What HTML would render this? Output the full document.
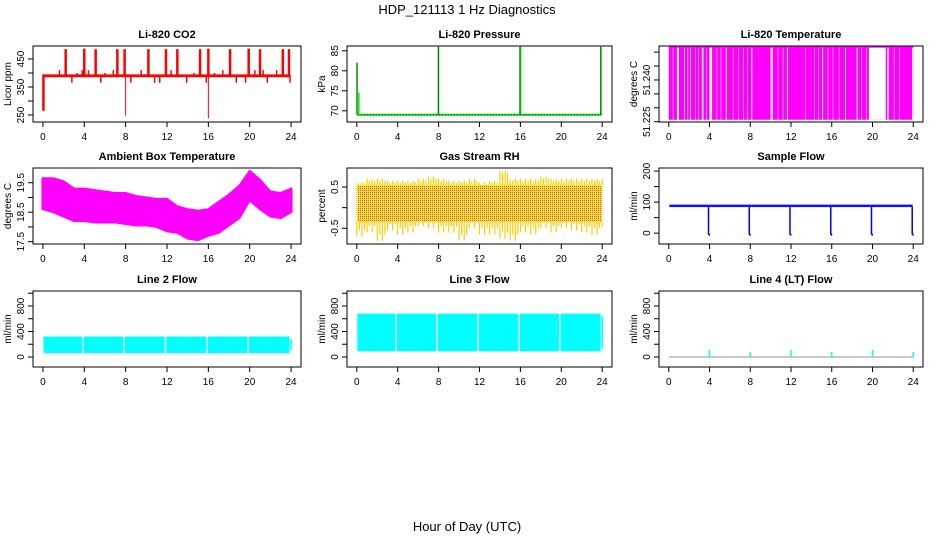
<!DOCTYPE html>
<html><head><meta charset="utf-8"><style>
html,body{margin:0;padding:0;background:#fff;}
svg{display:block;font-family:"Liberation Sans",sans-serif;}
</style></head><body>
<svg id="c" width="936" height="540" xmlns="http://www.w3.org/2000/svg">
<defs>
<pattern id="rhpat" width="2" height="2" patternUnits="userSpaceOnUse">
<rect width="2" height="2" fill="#ffee00"/><rect x="0" y="0" width="1" height="1" fill="#ff3010"/>
</pattern>
</defs>
<text x="467" y="14" text-anchor="middle" font-size="13">HDP_121113  1 Hz Diagnostics</text>
<text x="467" y="531" text-anchor="middle" font-size="13">Hour of Day (UTC)</text>
</svg>
<script>
// ---- data ----
const xTicks = [0,4,8,12,16,20,24];
const co2Base = [385,395];
const co2SpikeHours = [2.2,4.0,5.1,7.2,7.9,10.2,11.9,13.0,15.2,16.0,18.1,19.9,21.0,23.2,23.8];
const co2SpikeValues = [485,487,485,485,485,485,485,485,485,487,485,487,485,485,485];
const co2SmallHours = [1.6,2.8,3.3,3.8,4.4,5.6,6.0,6.8,8.5,9.5,10.8,11.3,12.4,13.9,14.6,15.8,16.6,17.4,18.7,19.6,20.5,21.3,21.7,22.6,23.9];
const co2SmallValues = [410,365,400,410,410,365,400,410,365,410,365,365,410,365,400,365,400,410,365,365,410,410,365,410,365];
const co2DipHours = [0.05,8.0,16.0];
const co2DipValues = [265,248,238];
const presBase = 69.0;
const presSpikeHours = [0.05,8.0,16.0,23.9];
const presSpikeValues = [82,86,86,86];
const tempLow = 51.2257, tempHigh = 51.2520;
const tempGaps = [[0.4,0.45],[0.8,1.0],[1.5,1.58],[1.85,1.9],[2.1,2.18],[2.6,2.65],[2.9,2.95],[3.25,3.4],[3.7,3.75],[4.0,4.25],[4.7,4.75],[5.1,5.15],[5.6,5.7],[6.3,6.35],[6.8,6.85],[7.3,7.35],[7.7,7.75],[8.1,8.2],[10.0,10.2],[10.7,10.75],[11.2,11.25],[11.6,11.7],[13.4,13.45],[14.3,14.35],[14.7,14.75],[15.05,15.15],[15.6,15.65],[16.1,16.15],[16.7,16.75],[17.3,17.4],[18.45,18.55],[18.9,18.95],[19.4,19.45],[19.65,21.3],[21.45,21.6],[22.1,22.15],[22.6,22.65],[23.9,24.0]];
const ambHours = [0,1,2,3,4,5,6,7,8,9,10,11,12,13,14,15,16,17,18,19,20,21,22,23,24];
const ambMax = [19.65,19.65,19.55,19.3,19.3,19.25,19.2,19.15,19.15,19.05,19.0,18.95,18.95,18.7,18.6,18.55,18.6,18.85,19.1,19.4,19.9,19.6,19.2,19.15,19.3];
const ambMin = [18.6,18.5,18.35,18.2,18.2,18.15,18.15,18.15,18.1,18.05,18.05,18.0,17.85,17.8,17.6,17.55,17.7,17.8,18.05,18.3,18.9,18.6,18.35,18.3,18.5];
const rhHours = [0,1,2,3,4,5,6,7,8,9,10,11,12,13,14,15,16,17,18,19,20,21,22,23,24];
const rhCoreLow = -0.35, rhCoreHigh = 0.55;
const rhMax = [0.6,0.7,0.7,0.65,0.65,0.65,0.7,0.75,0.7,0.65,0.65,0.7,0.6,0.65,0.9,0.7,0.7,0.7,0.75,0.7,0.7,0.7,0.7,0.7,0.7];
const rhMin = [-0.7,-0.6,-0.8,-0.55,-0.65,-0.6,-0.45,-0.5,-0.6,-0.6,-0.8,-0.5,-0.65,-0.65,-0.75,-0.8,-0.6,-0.65,-0.5,-0.6,-0.5,-0.55,-0.6,-0.65,-0.45];
const sfBase = [84,92];
const sfDipHours = [4,8,12,16,20,24];
const sfDipValues = [-5,-5,-5,-5,-5,-5];
const l2Band = [60,320];
const l3Band = [90,680];
const flowGapHours = [3.85,7.85,11.85,15.85,19.85];
const l4SpikeHours = [4,8,12,16,20,24];
const l4SpikeValues = [110,80,110,80,110,80];

// ---- helpers ----
const NS="http://www.w3.org/2000/svg";
const svg=document.getElementById('c');
function mk(tag,attrs,parent){const e=document.createElementNS(NS,tag);for(const k in attrs)e.setAttribute(k,attrs[k]);(parent||svg).appendChild(e);return e;}
function panel(name,L,R,T,B,ymin,ymax,yt,ylabels,title,ytitle){
  const g=mk('g',{});
  
  
  const sx=h=>L+(h+0.96)/25.92*(R-L);
  const sy=v=>B-(v-ymin)/(ymax-ymin)*(B-T);
  const t=mk('text',{x:(L+R)/2,y:T-8,'text-anchor':'middle','font-size':11,'font-weight':'bold'},g);t.textContent=title;
  
  
  const yl=mk('text',{x:0,y:0,'text-anchor':'middle','font-size':10,transform:`translate(${L-22},${(T+B)/2}) rotate(-90)`},g);yl.textContent=ytitle;
  
  
  const xa=mk('g',{},g);
  
  
  mk('line',{x1:sx(0),x2:sx(24),y1:B,y2:B,stroke:'#000'},xa);
  xTicks.forEach(h=>{mk('line',{x1:sx(h),x2:sx(h),y1:B,y2:B+5,stroke:'#000'},xa);const tx=mk('text',{x:sx(h),y:B+18,'text-anchor':'middle','font-size':10},xa);tx.textContent=h;});
  const ya=mk('g',{},g);
  
  
  yt.forEach((v,i)=>{const y=sy(v);mk('line',{x1:L-5,x2:L,y1:y,y2:y,stroke:'#000'},ya);
    if(ylabels[i]){const tx=mk('text',{x:0,y:0,'text-anchor':'middle','font-size':10,transform:`translate(${L-9},${y}) rotate(-90)`},ya);tx.textContent=ylabels[i];}});
  const data=mk('g',{},g);
  
  
  return {g,data,sx,sy,L,R,T,B};
}
function box(p){mk('rect',{x:p.L,y:p.T,width:p.R-p.L,height:p.B-p.T,fill:'none',stroke:'#000'},p.g);}
function vline(p,x,y1,y2,col,w){mk('line',{x1:x,x2:x,y1:y1,y2:y2,stroke:col,'stroke-width':w||1},p.data);}
function band(p,h1,h2,v1,v2,col){mk('rect',{x:p.sx(h1),y:p.sy(v2),width:p.sx(h2)-p.sx(h1),height:p.sy(v1)-p.sy(v2),fill:col},p.data);}

// Row 1
let p=panel('co2',33,301,46,122,225,496.4,[250,300,350,400,450],['250','','350','','450'],'Li-820 CO2','Licor ppm');
band(p,0.05,23.95,co2Base[0],co2Base[1],'#ff0000');
co2SmallHours.forEach((h,i)=>vline(p,p.sx(h),p.sy(390),p.sy(co2SmallValues[i]),'#ff0000',1.5));
co2SpikeHours.forEach((h,i)=>vline(p,p.sx(h),p.sy(390),p.sy(co2SpikeValues[i]),'#ff0000',2.5));
co2DipHours.forEach((h,i)=>vline(p,p.sx(h),p.sy(395),p.sy(co2DipValues[i]),'#ff0000',i==0?2.5:1));
box(p);

p=panel('pressure',347,612,46,122,67.2,86.2,[70,75,80,85],['70','75','80','85'],'Li-820 Pressure','kPa');
band(p,0.05,23.95,presBase-0.25,presBase+0.25,'#00ee00');
mk('line',{x1:p.sx(0.1),x2:p.sx(23.9),y1:p.sy(presBase),y2:p.sy(presBase),stroke:'#000','stroke-dasharray':'1 2'},p.data);
presSpikeHours.forEach((h,i)=>{vline(p,p.sx(h),p.sy(presBase),p.sy(presSpikeValues[i]),'#00ee00',i==2?2:1.5);vline(p,p.sx(h)-0.5,p.sy(presBase),p.sy(presSpikeValues[i]),'#000',0.6);});
vline(p,p.sx(0.1)+1,p.sy(presBase),p.sy(74.5),'#00ee00',1.5);
box(p);

p=panel('li820-temp',659,923,46,122,51.2249,51.2522,[51.225,51.230,51.235,51.240,51.245,51.250],['51.225','','','51.240','',''],'Li-820 Temperature','degrees C');
band(p,0,24,tempLow,tempHigh,'#ff00ff');
tempGaps.forEach(gp=>band(p,gp[0],gp[1],tempLow,tempHigh-0.0004,'#ffffff'));
mk('line',{x1:p.sx(0),x2:p.sx(24),y1:p.sy(tempHigh),y2:p.sy(tempHigh),stroke:'#ff00ff','stroke-width':1.5},p.data);
box(p);

// Row 2
p=panel('ambient-temp',33,301,168,244,17.42,20.0,[17.5,18,18.5,19,19.5],['17.5','','18.5','','19.5'],'Ambient Box Temperature','degrees C');
{let pts=ambHours.map((h,i)=>p.sx(h)+','+p.sy(ambMax[i])).concat(ambHours.slice().reverse().map((h,j)=>{const i=ambHours.length-1-j;return p.sx(h)+','+p.sy(ambMin[i]);}));
mk('polygon',{points:pts.join(' '),fill:'#ff00ff',stroke:'#ff00ff','stroke-width':2},p.data);}
ambHours.forEach((h,i)=>{vline(p,p.sx(h),p.sy(ambMax[i]),p.sy(ambMin[i]),'#ff00ff',3);});
box(p);

p=panel('gas-rh',347,612,168,244,-0.88,0.96,[-0.5,0,0.5],['-0.5','','0.5'],'Gas Stream RH','percent');
band(p,0,24,rhCoreLow,rhCoreHigh,'url(#rhpat)');
rhHours.forEach((h,i)=>{for(let k=0;k<4&&h+k*0.25<=24;k++){const x=p.sx(h+k*0.25);vline(p,x,p.sy(rhCoreHigh),p.sy(k%2?rhMax[i]-0.05:rhMax[i]),'#ffcc00',1.2);vline(p,x,p.sy(rhCoreLow),p.sy(k%2?rhMin[i]+0.15:rhMin[i]),'#ffcc00',1.2);}});
box(p);

p=panel('sample-flow',659,923,168,244,-35,210,[0,50,100,150,200],['0','','100','','200'],'Sample Flow','ml/min');
band(p,0.05,23.95,sfBase[0],sfBase[1],'#1010ff');
sfDipHours.forEach((h,i)=>{vline(p,p.sx(h)-1,p.sy(sfBase[0]),p.sy(sfDipValues[i]),'#0000ff',1.5);band(p,h-0.1,h+0.05,sfDipValues[i]-3,sfDipValues[i]+3,'#0000ff');});
box(p);

// Row 3
function flowPanel(name,L,R,bandV,title){
  const q=panel(name,L,R,291,367,-157,1035,[0,200,400,600,800,1000],['0','','400','','800',''],title,'ml/min');
  band(q,0.05,23.85,bandV[0],bandV[1],'#00ffff');
  flowGapHours.forEach(h=>vline(q,q.sx(h),q.sy(bandV[0]),q.sy(bandV[1]),'#ffffff',1.5));
  vline(q,q.sx(24),q.sy(bandV[0]+40),q.sy(bandV[1]-40),'#00ffff',1.5);
  box(q);
}
flowPanel('line2-flow',33,301,l2Band,'Line 2 Flow');
flowPanel('line3-flow',347,612,l3Band,'Line 3 Flow');
p=panel('line4-flow',659,923,291,367,-157,1035,[0,200,400,600,800,1000],['0','','400','','800',''],'Line 4 (LT) Flow','ml/min');
mk('line',{x1:p.sx(0),x2:p.sx(24),y1:p.sy(0),y2:p.sy(0),stroke:'#aaaaaa','stroke-width':1.2},p.data);
l4SpikeHours.forEach((h,i)=>vline(p,p.sx(h),p.sy(0),p.sy(l4SpikeValues[i]),'#00ffff',1.5));
box(p);
</script>
</body></html>
